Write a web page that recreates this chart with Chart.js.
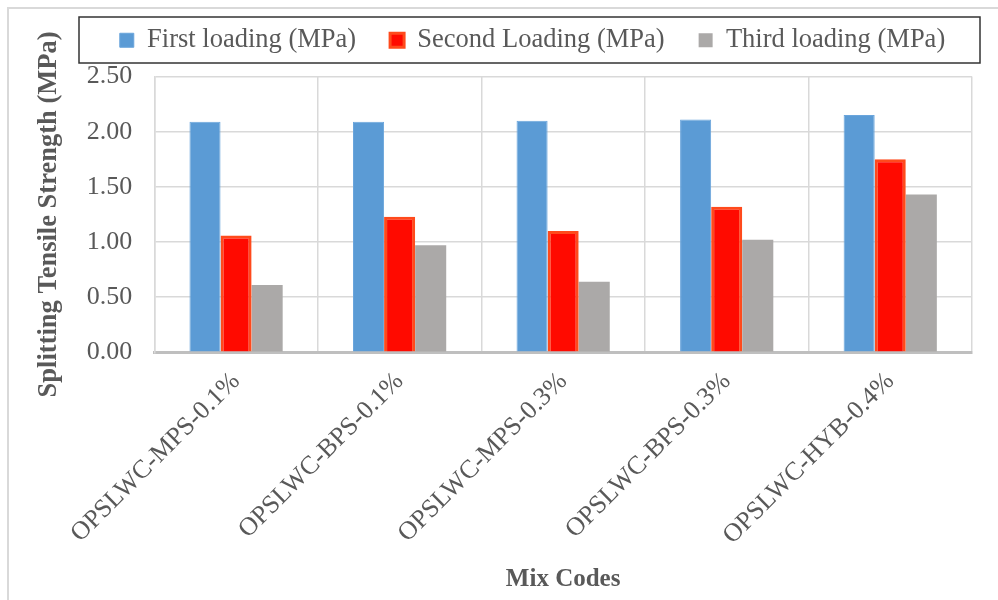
<!DOCTYPE html>
<html>
<head>
<meta charset="utf-8">
<script src="https://cdn.jsdelivr.net/npm/chart.js@4.4.1/dist/chart.umd.min.js"></script>
<style>
  html, body { margin: 0; padding: 0; background: #fff; }
  #wrap { width: 998px; height: 600px; position: relative; }
</style>
</head>
<body>
<div id="wrap"><canvas id="chart"></canvas></div>
<script>
const mixCodes = ["OPSLWC-MPS-0.1%", "OPSLWC-BPS-0.1%", "OPSLWC-MPS-0.3%", "OPSLWC-BPS-0.3%", "OPSLWC-HYB-0.4%"];
const firstLoading = [2.09, 2.09, 2.10, 2.11, 2.15];
const secondLoading = [1.06, 1.23, 1.10, 1.32, 1.75];
const thirdLoading = [0.61, 0.97, 0.64, 1.02, 1.43];
const yTicks = [0, 0.5, 1.0, 1.5, 2.0, 2.5];

const serif = "'Liberation Serif', 'Times New Roman', serif";
const textGray = "#595959";

// frame round the chart + black box round the legend, legend nudged like the excel original
const decor = {
    id: "decor",
    afterLayout(chart) {
        const lg = chart.legend;
        lg.left += 30; lg.right += 30;
        lg.top -= 13; lg.bottom -= 13;
    },
    beforeDraw(chart) {
        const ctx = chart.ctx;
        ctx.save();
        ctx.strokeStyle = "#d9d9d9";
        ctx.lineWidth = 2;
        ctx.strokeRect(8, 8, 1200, 900);
        ctx.restore();
    },
    afterDraw(chart) {
        const ctx = chart.ctx;
        ctx.save();
        ctx.strokeStyle = "#333";
        ctx.lineWidth = 1.5;
        ctx.strokeRect(79, 17, 901, 46);
        ctx.restore();
    }
};

new Chart(document.getElementById("chart"), {
    type: "bar",
    data: {
        labels: mixCodes,
        datasets: [
            {
                label: "First loading (MPa)",
                data: firstLoading,
                backgroundColor: "#5b9bd5",
                borderColor: "#6aa5dc",
                borderWidth: 1
            },
            {
                label: "Second Loading (MPa)",
                data: secondLoading,
                backgroundColor: "#ff0a00",
                borderColor: "#ff4a1c",
                borderWidth: 3
            },
            {
                label: "Third loading (MPa)",
                data: thirdLoading,
                backgroundColor: "#aba9a8",
                borderColor: "#aba9a8",
                borderWidth: 0
            }
        ]
    },
    options: {
        responsive: true,
        maintainAspectRatio: false,
        animation: false,
        layout: { padding: { left: 33, right: 26, top: 6, bottom: 5 } },
        categoryPercentage: 0.57,
        barPercentage: 1.0,
        plugins: {
            tooltip: { enabled: false },
            legend: {
                position: "top",
                labels: {
                    font: { family: serif, size: 26.5 },
                    color: textGray,
                    boxWidth: 14,
                    boxHeight: 14,
                    padding: 34
                }
            }
        },
        scales: {
            x: {
                grid: { color: "#d9d9d9", lineWidth: 1.5, drawTicks: false, offset: true },
                border: { color: "#bfbfbf", width: 3 },
                ticks: {
                    font: { family: serif, size: 26 },
                    color: textGray,
                    autoSkip: false,
                    minRotation: 45,
                    maxRotation: 45,
                    padding: 14
                },
                title: {
                    display: true,
                    text: "Mix Codes",
                    font: { family: serif, size: 25, weight: "bold" },
                    color: textGray,
                    padding: { top: 0, bottom: 0 }
                }
            },
            y: {
                min: 0,
                max: 2.5,
                afterBuildTicks(scale) {
                    scale.ticks = yTicks.map(v => ({ value: v }));
                },
                grid: { color: "#d9d9d9", lineWidth: 1.5, drawTicks: false },
                border: { color: "#d9d9d9", width: 1.5 },
                ticks: {
                    font: { family: serif, size: 26 },
                    color: textGray,
                    padding: 22,
                    callback: v => Number(v).toFixed(2)
                },
                title: {
                    display: true,
                    text: "Splitting Tensile Strength (MPa)",
                    font: { family: serif, size: 26.5, weight: "bold" },
                    color: textGray,
                    padding: { top: 0, bottom: 0 }
                }
            }
        }
    },
    plugins: [decor]
});
</script>
</body>
</html>
